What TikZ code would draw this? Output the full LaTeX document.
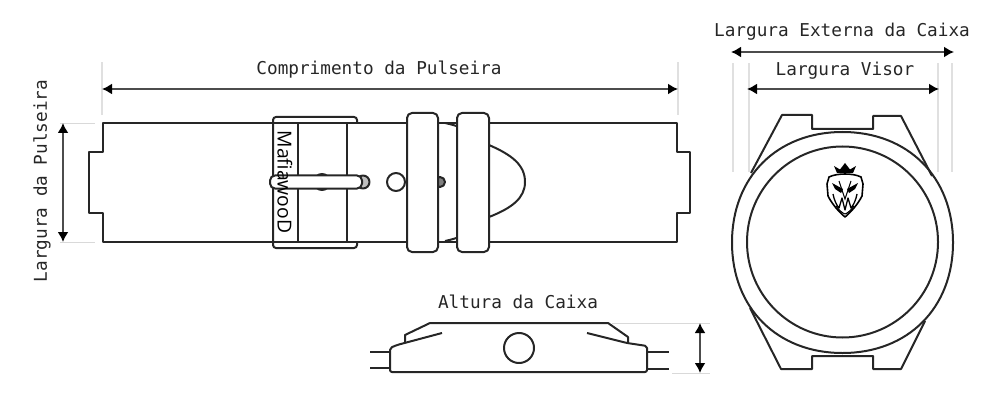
\documentclass[tikz,border=0pt]{standalone}
\usepackage{fontspec}
\setmonofont{DejaVu Sans Mono}
\setsansfont{Open Sans}
\usetikzlibrary{arrows.meta}

\begin{document}
\begin{tikzpicture}[x=1pt, y=-1pt,
        outline/.style = {draw=black!85, line width=2pt, line join=round},
        dimarrow/.style = {draw=black!70, line width=1.8pt,
                           {Latex[length=10pt,width=11pt,black]}-{Latex[length=10pt,width=11pt,black]}},
        extline/.style = {draw=black!12, line width=1.8pt},
        thinext/.style = {draw=black!15, line width=0.9pt},
        dimlabel/.style = {font=\ttfamily\fontsize{17.7}{20}\selectfont, text=black!85, inner sep=0pt},
        loopband/.style = {outline, fill=white, rounded corners=5pt}]
    \useasboundingbox (0,0) rectangle (1000,406);

    \draw[outline] (103,123) -- (677,123) -- (677,152) -- (690,152) -- (690,213) -- (677,213)
        -- (677,242) -- (103,242) -- (103,213) -- (89,213) -- (89,152) -- (103,152) -- cycle;
    \draw[outline, fill=white] (445,123) .. controls (470,128) and (480,140) .. (489,145)
        .. controls (512,155) and (525,165) .. (525,182)
        .. controls (525,198) and (512,208) .. (489,217)
        .. controls (480,224) and (470,236) .. (445,241);
    \draw[outline] (103,123) -- (677,123);
    \draw[outline] (103,242) -- (677,242);
    \draw[outline] (298,123) -- (298,242);
    \draw[outline] (347,123) -- (347,242);
    \draw[outline, fill=black!60] (322,182) circle [radius=8];
    \draw[outline, fill=white] (396,182) circle [radius=9];
    \draw[outline, fill=black!50] (440,182) circle [radius=5];
    \draw[outline, rounded corners=3pt] (357,123) -- (357,117) -- (273,117) -- (273,248) -- (357,248) -- (357,242);
    \draw[outline, fill=black!25] (363,182) circle [radius=6.5];
    \node[outline, fill=white, rounded corners=5pt, minimum width=92pt, minimum height=13pt, inner sep=0pt] (tongue) at (316,182) {};
    \node[loopband, minimum width=31pt, minimum height=139pt, inner sep=0pt] (loopA) at (422.5,182.5) {};
    \node[loopband, minimum width=32pt, minimum height=139pt, inner sep=0pt] (loopB) at (473,182.5) {};
    \node[font=\sffamily\fontsize{19.3}{22}\selectfont, rotate=-90, inner sep=0pt] (brand) at (285,182) {MafiawooD};

    \coordinate (compL) at (102,89);
    \coordinate (compR) at (678,89);
    \draw[extline] (102,62) -- (102,115);
    \draw[extline] (678,62) -- (678,115);
    \draw[dimarrow] (compL) -- (compR);
    \node[dimlabel] (compText) at (379,70) {Comprimento da Pulseira};

    \coordinate (largT) at (63,123);
    \coordinate (largB) at (63,242);
    \draw[thinext] (60,123) -- (95,123);
    \draw[thinext] (60,242) -- (95,242);
    \draw[dimarrow] (largT) -- (largB);
    \node[dimlabel, rotate=90] (largText) at (42,181) {Largura da Pulseira};

    \draw[extline] (733,63) -- (733,172);
    \draw[extline] (952,63) -- (952,172);
    \draw[extline] (749,63) -- (749,172);
    \draw[extline] (938,63) -- (938,172);
    \coordinate (extL) at (731,52);
    \coordinate (extR) at (954,52);
    \coordinate (visL) at (747,89);
    \coordinate (visR) at (939,89);
    \draw[dimarrow] (extL) -- (extR);
    \draw[dimarrow] (visL) -- (visR);
    \node[dimlabel] (extText) at (842,32) {Largura Externa da Caixa};
    \node[dimlabel] (visText) at (845,71) {Largura Visor};

    \draw[outline] (751,173) -- (782,115) -- (812,115) -- (812,129) -- (873,129) -- (873,116) -- (901,116) -- (932,176);
    \draw[outline] (750,308) -- (781,369) -- (812,369) -- (812,356) -- (873,356) -- (873,369) -- (901,369) -- (925,321);
    \draw[outline] (842.5,132) .. controls (908,132) and (953,177) .. (953,242.5)
        .. controls (953,308) and (908,353) .. (842.5,353)
        .. controls (777,353) and (732,308) .. (732,242.5)
        .. controls (732,177) and (777,132) .. (842.5,132) -- cycle;
    \draw[outline] (842.5,242) circle [radius=95.5];

    \begin{scope}[shift={(845,190)}]
        \fill (-8,-17) -- (-11,-24) -- (-5,-20.5) -- (0,-27) -- (5,-20.5) -- (11,-24) -- (8,-17) -- cycle;
        \draw[line width=1.6pt, line join=round] (-16,-13) .. controls (-8,-17) and (8,-17) .. (16,-13)
            -- (18,-6) -- (17,6) .. controls (13,14) and (6,22) .. (0,27)
            .. controls (-6,22) and (-13,14) .. (-17,6) -- (-18,-6) -- cycle;
        \fill (-13,-7) -- (-2,-1) -- (-4,3) -- (-10,-1) -- cycle;
        \fill (13,-7) -- (2,-1) -- (4,3) -- (10,-1) -- cycle;
        \draw[line width=1pt] (-6,-9) -- (0,9) -- (6,-9);
        \draw[line width=1.3pt, line join=round] (-12,4) .. controls (-11,10) and (-8,16) .. (-6,18) -- (-3,8) -- (0,20) -- (3,8) -- (6,18) .. controls (8,16) and (11,10) .. (12,4);
        \draw[line width=1.1pt, line join=round] (-9,16) .. controls (-6,20) and (-3,23) .. (0,24) .. controls (3,23) and (6,20) .. (9,16);
    \end{scope}

    \draw[outline] (370,352) -- (390,352);
    \draw[outline] (370,368) -- (390,368);
    \draw[outline] (647,352) -- (669,352);
    \draw[outline] (647,369) -- (669,369);
    \draw[outline, rounded corners=2pt] (442,333) -- (397,345) -- (390,348) -- (390,372) -- (647,372) -- (647,346) -- (627,343) -- (587,333);
    \draw[outline] (405,342) -- (405,335) -- (430,323) -- (608,323) -- (628,337) -- (628,343);
    \draw[outline] (519,348) circle [radius=15];
    \draw[thinext] (612,323) -- (710,323);
    \draw[thinext] (672,373) -- (710,373);
    \coordinate (altT) at (700,323);
    \coordinate (altB) at (700,373);
    \draw[dimarrow] (altT) -- (altB);
    \node[dimlabel] (altText) at (518,302) {Altura da Caixa};
\end{tikzpicture}
\end{document}
